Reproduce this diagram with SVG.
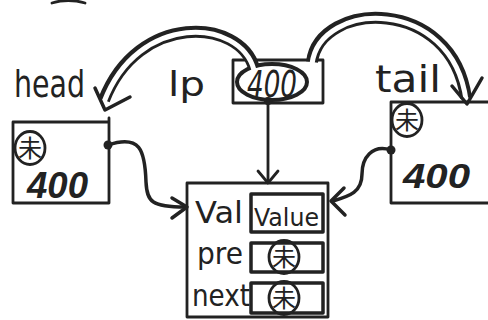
<svg xmlns="http://www.w3.org/2000/svg" width="488" height="320" viewBox="0 0 488 320">
  <style>
    .ln { fill: none; stroke: #222; stroke-width: 2.8; stroke-linecap: round; stroke-linejoin: round; }
    .thick { fill: none; stroke: #222; stroke-width: 3.5; stroke-linecap: round; stroke-linejoin: round; }
    .dbl-out { fill: none; stroke: #222; stroke-width: 12; stroke-linecap: butt; }
    .dbl-in { fill: none; stroke: #fff; stroke-width: 5; stroke-linecap: butt; }
    .dot { fill: #222; }
    .hand { font-family: "DejaVu Sans", sans-serif; fill: #222; }
    .num { font-family: "Liberation Sans", sans-serif; font-style: italic; font-weight: bold; fill: #222; }
    .cjk { font-family: "Noto Sans CJK SC", sans-serif; fill: #222; font-size: 24px; text-anchor: middle; }
  </style>
  <defs>
    <!-- circled "未" (uninitialised pointer) mark -->
    <g id="undef">
      <ellipse cx="0" cy="0" rx="15" ry="16.5" class="ln"/>
      <text x="0" y="8.5" class="cjk">未</text>
    </g>
  </defs>

  <rect width="488" height="320" fill="#fff"/>

  <!-- fragment of a stroke at the top edge -->
  <path class="ln" d="M 52 3 Q 68 -2 85 3"/>

  <!-- pointer labels -->
  <text class="hand" x="14" y="97" font-size="38" textLength="71" lengthAdjust="spacingAndGlyphs">head</text>
  <text class="hand" x="168" y="96" font-size="34" textLength="37" lengthAdjust="spacingAndGlyphs">lp</text>
  <text class="hand" x="375" y="92" font-size="38" textLength="66" lengthAdjust="spacingAndGlyphs">tail</text>

  <!-- head node -->
  <g id="head">
    <path class="ln" d="M 13 122 H 109 M 109 118 V 203 H 13 V 122"/>
    <use href="#undef" x="30" y="148"/>
    <text class="num" x="27" y="198" font-size="36" textLength="61" lengthAdjust="spacingAndGlyphs">400</text>
  </g>

  <!-- lp node -->
  <g id="lp">
    <rect class="ln" x="233" y="60" width="90" height="43"/>
    <ellipse cx="272" cy="82" rx="35" ry="18" fill="#fff" stroke="#222" stroke-width="4"/>
    <text class="hand" x="247" y="97" font-size="38" font-style="italic" textLength="50" lengthAdjust="spacingAndGlyphs">400</text>
  </g>

  <!-- tail node -->
  <g id="tail">
    <path class="ln" d="M 490 102 H 391 V 203 H 490"/>
    <use href="#undef" x="407" y="120"/>
    <text class="num" x="403" y="188" font-size="35" textLength="67" lengthAdjust="spacingAndGlyphs">400</text>
  </g>

  <!-- list node -->
  <g id="node">
    <rect class="ln" x="187" y="183" width="141" height="134"/>
    <text class="hand" x="195" y="223" font-size="30" textLength="48" lengthAdjust="spacingAndGlyphs">Val</text>
    <text class="hand" x="197" y="264" font-size="30" textLength="46" lengthAdjust="spacingAndGlyphs">pre</text>
    <text class="hand" x="192" y="306" font-size="30" textLength="58" lengthAdjust="spacingAndGlyphs">next</text>
    <rect class="thick" x="251" y="194" width="72" height="38"/>
    <text class="hand" x="254" y="226" font-size="25" textLength="65" lengthAdjust="spacingAndGlyphs">Value</text>
    <rect class="thick" x="251" y="243" width="72" height="29"/>
    <use href="#undef" x="284" y="257"/>
    <rect class="thick" x="251" y="283" width="72" height="30"/>
    <use href="#undef" x="284" y="298"/>
  </g>

  <!-- connectors -->
  <g id="connectors">
    <!-- lp -> head (hollow double-line arc) -->
    <path class="dbl-out" d="M 254 68 C 240 18, 138 12, 104 100"/>
    <path class="dbl-in" d="M 254 70 C 240 18, 138 12, 104 102"/>
    <path class="thick" d="M 95 88 L 105 110 L 130 97"/>

    <!-- lp -> tail (hollow double-line arc) -->
    <path class="dbl-out" d="M 312 62 C 320 0, 452 -4, 466 98"/>
    <path class="dbl-in" d="M 312 64 C 320 0, 452 -4, 466 100"/>
    <path class="thick" d="M 452 86 L 467 104 L 482 78"/>

    <!-- lp -> node -->
    <circle class="dot" cx="268" cy="101" r="4"/>
    <path class="ln" d="M 268 101 V 182"/>
    <path class="ln" d="M 258 171 L 268 183 L 278 171"/>

    <!-- head -> node -->
    <circle class="dot" cx="108" cy="145" r="4.5"/>
    <path class="thick" d="M 108 145 C 140 134, 145 150, 146 182 C 147 202, 152 207, 185 207"/>
    <path class="thick" d="M 172 198 L 187 207 L 172 218"/>

    <!-- tail -> node -->
    <circle class="dot" cx="391" cy="150" r="4.5"/>
    <path class="thick" d="M 391 150 C 372 144, 362 158, 362 174 C 362 192, 350 196, 333 201"/>
    <path class="thick" d="M 344 188 L 331 201 L 345 215"/>
  </g>
</svg>
